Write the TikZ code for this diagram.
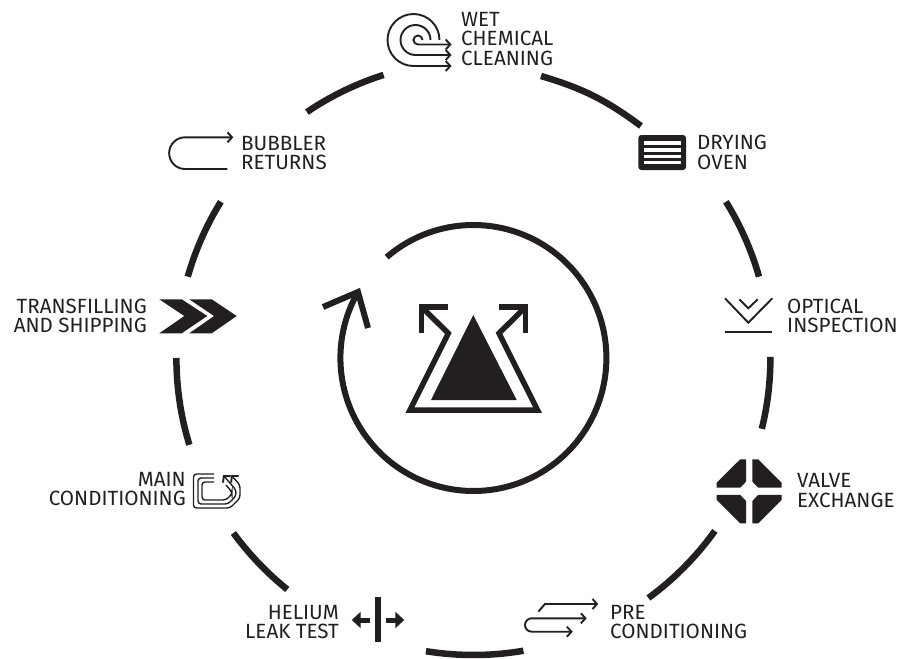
\documentclass[tikz,border=0pt]{standalone}
\usepackage{fontspec}
\setmainfont{Fira Sans}
\usepackage{xcolor}
\usetikzlibrary{arrows.meta}
\definecolor{ink}{HTML}{231F20}
\tikzset{
  ringseg/.style={draw=ink, line width=6.5pt},
  cycleline/.style={draw=ink, line width=6pt},
  flaskline/.style={draw=ink, line width=5.5pt, miter limit=10},
  icon/.style={draw=ink, line width=1.9pt},
  barbtip/.tip={Straight Barb[length=4.5pt,width=10pt,line width=1.9pt]},
  barb/.style={-barbtip},
  lbl/.style={text=ink, font=\fontsize{20.6}{19.6}\selectfont, inner sep=0pt},
  lblw/.style={lbl, anchor=west, align=left},
  lble/.style={lbl, anchor=east, align=right}
}

\begin{document}
\begin{tikzpicture}[x=1pt,y=1pt,yscale=-1]
  \useasboundingbox (0,0) rectangle (903,659);

  \coordinate (hub) at (473.4,358);
  \foreach \a/\b in {235.9/252.4, 328.25/344.1, 359.8/373.8, 395.6/413.9,
    440.3/459.2, 488.8/503.9, 523/540, 555.9/571.75}
    \draw[ringseg] (hub) ++(\a:297) arc[start angle=\a, end angle=\b, radius=297];
  \draw[ringseg] (541,76) to[bend right=10] (641,126);

  \draw[cycleline] (hub) ++(229.3:133) arc[start angle=229.3, end angle=569.9, radius=133];
  \draw[cycleline, miter limit=10] (323,307)--(358,292)--(368,328);

  \fill[ink] (473.3,315)--(516.7,400)--(431,400)--cycle;
  \draw[flaskline] (448,307)--(421.7,307)--(421.7,332.7);
  \draw[flaskline] (499,307)--(525.5,307)--(525.5,332.7);
  \draw[flaskline] (421.7,307)--(448.3,333.3)--(410,410)--(537.5,410)--(499,333.3)--(525.5,307);

  % wet chemical cleaning
  \coordinate (spiral) at (413.5,40);
  \draw[icon, barb] (spiral) ++(0:26) arc[start angle=0, end angle=-270, radius=26] -- (451.5,66);
  \draw[icon, barb] (spiral) ++(0:17) arc[start angle=0, end angle=-270, radius=15] -- (451.5,55);
  \draw[icon, barb] (spiral) ++(0:9) arc[start angle=0, end angle=-270, radius=4.5] -- (451.5,44.5);
  \node[lblw] (wet) at (461,39) {WET\\CHEMICAL\\CLEANING};

  % drying oven
  \fill[ink, rounded corners=3pt] (638.3,135) rectangle (686,170);
  \foreach \ya/\yb in {141/145, 148.3/151.7, 155/158.3, 161/164.3}
    \fill[white] (644,\ya) rectangle (681,\yb);
  \node[lblw] (oven) at (697,152.5) {DRYING\\OVEN};

  % optical inspection
  \draw[icon] (725,298.3)--(748.3,322.7)--(772.3,298.3);
  \draw[icon] (739.3,299.3)--(748.3,308.3)--(757.7,299.3);
  \draw[icon] (725,331.7)--(772.3,331.7);
  \node[lblw] (optical) at (787,316) {OPTICAL\\INSPECTION};

  % valve exchange
  \foreach \sx/\sy in {1/1,-1/1,1/-1,-1/-1}
    \fill[ink, shift={(749.2,491.3)}, xscale=\sx, yscale=\sy]
      (-3.2,-32)--(-3.2,-9.6)--(-9,-3.6)--(-32.5,-3.6)--(-32.5,-8.6)--(-9,-32)--cycle;
  \node[lblw] (valve) at (797,490.5) {VALVE\\EXCHANGE};

  % pre conditioning
  \draw[icon, barb] (538.3,611.7)--(545,604)--(598.3,604);
  \draw[icon, barbtip-barbtip]
    (586.7,618.3)--(531.7,618.3) arc[start angle=-90, end angle=-270, radius=6.7]--(572.7,631.7);
  \node[lblw] (pre) at (610,622) {PRE\\CONDITIONING};

  % helium leak test
  \fill[ink] (375,597) rectangle (381,642);
  \draw[ink, line width=5pt, -{Triangle[length=9pt,width=16pt]}] (370,620)--(351.7,620);
  \draw[ink, line width=5pt, -{Triangle[length=9pt,width=16pt]}] (386,620)--(404.3,620);
  \node[lble] (helium) at (339,622) {HELIUM\\LEAK TEST};

  % main conditioning
  \draw[icon, line width=1.4pt, barb, rounded corners=3pt] (214,474)--(193.5,474)--(193.5,508)--(230,508)--(240,498)--(240,485)--(231,475);
  \draw[icon, line width=1.4pt, barb, rounded corners=3pt] (214,478)--(198,478)--(198,504)--(228,504)--(236,496)--(236,490)--(223,475);
  \draw[icon, line width=1.4pt, rounded corners=3pt] (214,482)--(202,482)--(202,500)--(226,500)--(232,494)--(232,492)--(226,485);
  \node[lble] (main) at (186,489) {MAIN\\CONDITIONING};

  % transfilling and shipping
  \fill[ink] (159.3,299.3)--(181.7,299.3)--(207.3,316)--(181.7,333.3)--(159.3,333.3)--(184.3,316)--cycle;
  \fill[ink] (189.3,299.3)--(211.7,299.3)--(236.7,316)--(211.7,333.3)--(189.3,333.3)--(214,316)--cycle;
  \node[lble] (transfill) at (147,316) {TRANSFILLING\\AND SHIPPING};

  % bubbler returns
  \draw[icon, barbtip-] (233.3,137.3)--(185,137.3) arc[start angle=-90, end angle=-270, radius=15.85]--(227.3,169);
  \node[lblw] (bubbler) at (241,153) {BUBBLER\\RETURNS};
\end{tikzpicture}
\end{document}
